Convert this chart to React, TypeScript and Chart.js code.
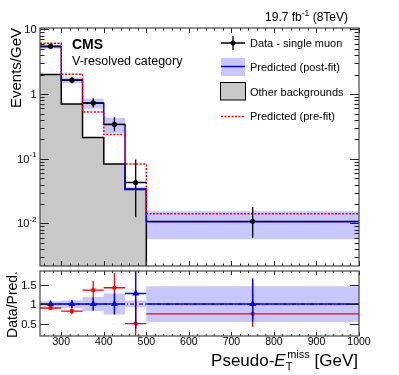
import React, { useEffect, useRef } from "react";
import { Chart, registerables } from "chart.js";

Chart.register(...registerables);

const FONT = "'Liberation Sans', Arial, Helvetica, sans-serif";

// ---------- data ----------
const binEdges = [250, 300, 350, 400, 450, 500, 1000];
const binCenters = [275, 325, 375, 425, 475, 750];

const dataValues = [5.5, 1.64, 0.73, 0.34, 0.043, 0.0108];
const dataErrUp = [0.38, 0.19, 0.13, 0.1, 0.054, 0.0071];
const dataErrDown = [0.36, 0.17, 0.11, 0.075, 0.0305, 0.0048];

const postFit = [5.4, 1.65, 0.72, 0.34, 0.034, 0.0106];
const postFitRelUnc = [0.07, 0.1, 0.18, 0.27, 0.09, 0.46];
const preFit = [6.1, 2.03, 0.53, 0.237, 0.083, 0.0141];
const otherBkg = [2.0, 0.7, 0.213, 0.083, 0.0334, 0];

const ratioPost = [1.0, 1.0, 1.0, 1.0, 1.27, 1.0];
const ratioPostErrUp = [0.05, 0.1, 0.17, 0.27, 1.6, 0.66];
const ratioPostErrDown = [0.05, 0.1, 0.17, 0.27, 0.9, 0.44];
const ratioPre = [0.9, 0.82, 1.36, 1.42, 0.5, 0.75];
const ratioPreErrUp = [0.05, 0.08, 0.23, 0.38, 0.63, 0.5];
const ratioPreErrDown = [0.05, 0.08, 0.23, 0.37, 0.36, 0.33];

const xTickValues = [300, 400, 500, 600, 700, 800, 900, 1000];
const xTickLabels = ["300", "400", "500", "600", "700", "800", "900", "1000"];
const yMainTickValues = [0.01, 0.1, 1, 10];
const yMainTickBase = ["10", "10", "1", "10"];
const yMainTickExp = ["-2", "-1", "", ""];
const yRatioTickValues = [0.5, 1, 1.5];
const yRatioTickLabels = ["0.5", "1", "1.5"];

const legendLabels = [
  "Data - single muon",
  "Predicted (post-fit)",
  "Other backgrounds",
  "Predicted (pre-fit)",
];

// ---------- styles ----------
const BAND = "#c8c8ff";
const GRAY = "#c8c8c8";
const BLUE = "#0000ff";
const RED = "#ff0000";

const stepPoints = (vals: number[]) => {
  const pts = vals.map((v, i) => ({ x: binEdges[i], y: v > 0 ? v : 1e-6 }));
  pts.push({ x: binEdges[binEdges.length - 1], y: pts[pts.length - 1].y });
  return pts;
};

type ErrSpec = {
  label: string;
  ys: number[];
  up: number[];
  down: number[];
  color: string;
  width: number;
};

const makeErrorBarPlugin = (specs: ErrSpec[]) => ({
  id: "errbars",
  beforeDatasetDraw(chart: any, args: any) {
    const ds = chart.data.datasets[args.index];
    const spec = specs.find((s) => s.label === ds.label);
    if (!spec) return;
    const { ctx, chartArea: a, scales } = chart;
    const xs = scales.x;
    const ys = scales.y;
    ctx.save();
    ctx.beginPath();
    ctx.rect(a.left, a.top, a.right - a.left, a.bottom - a.top);
    ctx.clip();
    ctx.strokeStyle = spec.color;
    ctx.lineWidth = spec.width;
    spec.ys.forEach((v, i) => {
      const py = ys.getPixelForValue(v);
      const px = xs.getPixelForValue(binCenters[i]);
      const x0 = xs.getPixelForValue(binEdges[i]);
      const x1 = xs.getPixelForValue(binEdges[i + 1]);
      ctx.beginPath();
      ctx.moveTo(x0, py);
      ctx.lineTo(x1, py);
      ctx.moveTo(px, ys.getPixelForValue(v + spec.up[i]));
      ctx.lineTo(px, ys.getPixelForValue(Math.max(v - spec.down[i], 1e-9)));
      ctx.stroke();
    });
    ctx.restore();
  },
});

const drawXTicks = (ctx: any, a: any, x: any, majLen: number, minLen: number) => {
  for (let v = 260; v <= 1000; v += 20) {
    const px = Math.round(x.getPixelForValue(v)) + 0.5;
    const len = v % 100 === 0 ? majLen : minLen;
    ctx.moveTo(px, a.bottom);
    ctx.lineTo(px, a.bottom - len);
    ctx.moveTo(px, a.top);
    ctx.lineTo(px, a.top + len);
  }
};

const drawFrame = (ctx: any, a: any) => {
  ctx.strokeStyle = "#444";
  ctx.lineWidth = 1.2;
  ctx.strokeRect(a.left, a.top, a.right - a.left, a.bottom - a.top);
};

const mainDecor = {
  id: "mainDecor",
  afterDraw(chart: any) {
    const { ctx, chartArea: a, scales } = chart;
    const x = scales.x;
    const y = scales.y;
    ctx.save();
    // ticks
    ctx.strokeStyle = "#222";
    ctx.lineWidth = 1;
    ctx.beginPath();
    for (let e = -3; e <= 1; e++) {
      for (let k = 1; k <= 9; k++) {
        const v = k * Math.pow(10, e);
        if (v < y.min || v > y.max) continue;
        const py = Math.round(y.getPixelForValue(v)) + 0.5;
        const len = k === 1 ? 9 : 4.5;
        ctx.moveTo(a.left, py);
        ctx.lineTo(a.left + len, py);
        ctx.moveTo(a.right, py);
        ctx.lineTo(a.right - len, py);
      }
    }
    drawXTicks(ctx, a, x, 5, 2.5);
    ctx.stroke();
    drawFrame(ctx, a);

    // y tick labels
    ctx.fillStyle = "#000";
    ctx.textBaseline = "middle";
    yMainTickValues.forEach((v, i) => {
      const py = y.getPixelForValue(v);
      ctx.font = `8px ${FONT}`;
      const we = yMainTickExp[i] ? ctx.measureText(yMainTickExp[i]).width : 0;
      ctx.font = `11px ${FONT}`;
      const wb = ctx.measureText(yMainTickBase[i]).width;
      const xEnd = 36.5;
      ctx.textAlign = "left";
      ctx.fillText(yMainTickBase[i], xEnd - we - wb, py + 1);
      if (yMainTickExp[i]) {
        ctx.font = `8px ${FONT}`;
        ctx.fillText(yMainTickExp[i], xEnd - we, py - 4);
      }
    });

    // y title
    ctx.save();
    ctx.translate(21, 28);
    ctx.rotate(-Math.PI / 2);
    ctx.font = `15px ${FONT}`;
    ctx.textAlign = "right";
    ctx.textBaseline = "alphabetic";
    ctx.fillText("Events/GeV", 0, 0);
    ctx.restore();

    // CMS labels
    ctx.textAlign = "left";
    ctx.textBaseline = "alphabetic";
    ctx.font = `bold 14px ${FONT}`;
    ctx.fillText("CMS", 72, 48.5);
    ctx.font = `12.5px ${FONT}`;
    ctx.fillText("V-resolved category", 72, 64.5);

    // luminosity
    ctx.font = `12px ${FONT}`;
    const wA = ctx.measureText("19.7 fb").width;
    const wC = ctx.measureText(" (8TeV)").width;
    ctx.font = `8.5px ${FONT}`;
    const wB = ctx.measureText("-1").width;
    let lx = 348 - (wA + wB + wC);
    ctx.font = `12px ${FONT}`;
    ctx.fillText("19.7 fb", lx, 21);
    lx += wA;
    ctx.font = `8.5px ${FONT}`;
    ctx.fillText("-1", lx, 16);
    lx += wB;
    ctx.font = `12px ${FONT}`;
    ctx.fillText(" (8TeV)", lx, 21);

    // legend
    const ly = [43, 67.5, 92, 116.5];
    // 1: data
    ctx.strokeStyle = "#000";
    ctx.lineWidth = 1.3;
    ctx.beginPath();
    ctx.moveTo(221, ly[0]);
    ctx.lineTo(245, ly[0]);
    ctx.moveTo(233, ly[0] - 7);
    ctx.lineTo(233, ly[0] + 7);
    ctx.stroke();
    ctx.fillStyle = "#000";
    ctx.beginPath();
    ctx.arc(233, ly[0], 2.5, 0, Math.PI * 2);
    ctx.fill();
    // 2: post-fit
    ctx.fillStyle = BAND;
    ctx.fillRect(221, ly[1] - 9.5, 24, 18);
    ctx.strokeStyle = BLUE;
    ctx.lineWidth = 1.5;
    ctx.beginPath();
    ctx.moveTo(221, ly[1] - 1);
    ctx.lineTo(245, ly[1] - 1);
    ctx.stroke();
    // 3: other
    ctx.fillStyle = GRAY;
    ctx.fillRect(220.5, ly[2] - 9.5, 25, 17.5);
    ctx.strokeStyle = "#000";
    ctx.lineWidth = 1;
    ctx.strokeRect(220.5, ly[2] - 9.5, 25, 17.5);
    // 4: pre-fit
    ctx.strokeStyle = RED;
    ctx.lineWidth = 1.5;
    ctx.setLineDash([2, 1.5]);
    ctx.beginPath();
    ctx.moveTo(221, ly[3]);
    ctx.lineTo(245, ly[3]);
    ctx.stroke();
    ctx.setLineDash([]);
    ctx.fillStyle = "#000";
    ctx.font = `11px ${FONT}`;
    ctx.textBaseline = "middle";
    legendLabels.forEach((t, i) => ctx.fillText(t, 250, ly[i] + 0.5));
    ctx.restore();
  },
};

const ratioDecor = {
  id: "ratioDecor",
  afterDraw(chart: any) {
    const { ctx, chartArea: a, scales } = chart;
    const x = scales.x;
    const y = scales.y;
    ctx.save();
    ctx.strokeStyle = "#222";
    ctx.lineWidth = 1;
    ctx.beginPath();
    yRatioTickValues.forEach((v) => {
      const py = Math.round(y.getPixelForValue(v)) + 0.5;
      ctx.moveTo(a.left, py);
      ctx.lineTo(a.left + 9, py);
      ctx.moveTo(a.right, py);
      ctx.lineTo(a.right - 9, py);
    });
    drawXTicks(ctx, a, x, 4, 2);
    ctx.stroke();
    drawFrame(ctx, a);

    ctx.fillStyle = "#000";
    ctx.font = `11px ${FONT}`;
    ctx.textAlign = "right";
    ctx.textBaseline = "middle";
    yRatioTickValues.forEach((v, i) => {
      ctx.fillText(yRatioTickLabels[i], 36.5, y.getPixelForValue(v) + 1);
    });

    ctx.font = `10.5px ${FONT}`;
    ctx.textAlign = "center";
    xTickValues.forEach((v, i) => {
      ctx.fillText(xTickLabels[i], x.getPixelForValue(v), 342.5);
    });

    // y title
    ctx.save();
    ctx.translate(16.5, 271);
    ctx.rotate(-Math.PI / 2);
    ctx.font = `14px ${FONT}`;
    ctx.textAlign = "right";
    ctx.textBaseline = "alphabetic";
    ctx.fillText("Data/Pred.", 0, 0);
    ctx.restore();

    // x title
    const big = `17px ${FONT}`;
    const bigIt = `italic 17px ${FONT}`;
    const small = `11px ${FONT}`;
    ctx.textAlign = "left";
    ctx.textBaseline = "alphabetic";
    ctx.font = big;
    const w1 = ctx.measureText("Pseudo-").width;
    const w4 = ctx.measureText(" [GeV]").width;
    ctx.font = bigIt;
    const w2 = ctx.measureText("E").width;
    ctx.font = small;
    const wT = ctx.measureText("T").width;
    const wM = ctx.measureText("miss").width;
    const total = w1 + w2 + Math.max(wT, wM + 1.5) + w4;
    let cx = 358 - total;
    const base = 366;
    ctx.font = big;
    ctx.fillText("Pseudo-", cx, base);
    cx += w1;
    ctx.font = bigIt;
    ctx.fillText("E", cx, base);
    cx += w2;
    ctx.font = small;
    ctx.fillText("T", cx, base + 4);
    ctx.fillText("miss", cx + 1.5, base - 8);
    cx += Math.max(wT, wM + 1.5);
    ctx.font = big;
    ctx.fillText(" [GeV]", cx, base);
    ctx.restore();
  },
};

const commonOptions = (padding: any, yScale: any) => ({
  responsive: false,
  animation: false as const,
  devicePixelRatio: 1,
  events: [] as any[],
  layout: { padding },
  plugins: {
    legend: { display: false },
    tooltip: { enabled: false },
    title: { display: false },
  },
  scales: {
    x: { type: "linear", display: false, min: 250, max: 1000 },
    y: yScale,
  },
});

export default function App() {
  const mainRef = useRef<HTMLCanvasElement>(null);
  const ratioRef = useRef<HTMLCanvasElement>(null);

  useEffect(() => {
    const bandLo = postFit.map((v, i) => v * (1 - postFitRelUnc[i]));
    const bandHi = postFit.map((v, i) => v * (1 + postFitRelUnc[i]));
    const rBandLo = postFitRelUnc.map((u) => 1 - u);
    const rBandHi = postFitRelUnc.map((u) => 1 + u);

    const main = new Chart(mainRef.current as HTMLCanvasElement, {
      type: "line",
      data: {
        datasets: [
          {
            label: "Data",
            data: binCenters.map((x, i) => ({ x, y: dataValues[i] })),
            showLine: false,
            pointRadius: 2.6,
            pointBackgroundColor: "#000",
            pointBorderWidth: 0,
            order: 1,
          },
          {
            label: "PreFit",
            data: stepPoints(preFit),
            stepped: true,
            borderColor: RED,
            borderWidth: 1.5,
            borderDash: [2, 1.5],
            pointRadius: 0,
            fill: false,
            order: 2,
          },
          {
            label: "PostFit",
            data: stepPoints(postFit),
            stepped: true,
            borderColor: BLUE,
            borderWidth: 1.5,
            pointRadius: 0,
            fill: false,
            order: 3,
          },
          {
            label: "BandLo",
            data: stepPoints(bandLo),
            stepped: true,
            borderWidth: 0,
            borderColor: "rgba(0,0,0,0)",
            pointRadius: 0,
            fill: false,
            order: 6,
          },
          {
            label: "BandHi",
            data: stepPoints(bandHi),
            stepped: true,
            borderWidth: 0,
            borderColor: "rgba(0,0,0,0)",
            backgroundColor: BAND,
            pointRadius: 0,
            fill: "-1",
            order: 6,
          },
          {
            label: "Other",
            data: stepPoints(otherBkg),
            stepped: true,
            borderColor: "#000",
            borderWidth: 1.5,
            backgroundColor: GRAY,
            pointRadius: 0,
            fill: "start",
            order: 5,
          },
        ],
      } as any,
      options: commonOptions(
        { left: 40, top: 28, right: 40, bottom: 109 },
        { type: "logarithmic", display: false, min: 0.0022, max: 10.5 }
      ) as any,
      plugins: [
        makeErrorBarPlugin([
          { label: "Data", ys: dataValues, up: dataErrUp, down: dataErrDown, color: "#000", width: 1.3 },
        ]),
        mainDecor,
      ],
    });

    const ratio = new Chart(ratioRef.current as HTMLCanvasElement, {
      type: "line",
      data: {
        datasets: [
          {
            label: "RatioPost",
            data: binCenters.map((x, i) => ({ x, y: ratioPost[i] })),
            showLine: false,
            pointStyle: "triangle",
            pointRadius: 4,
            pointBackgroundColor: BLUE,
            pointBorderColor: BLUE,
            pointBorderWidth: 0,
            order: 1,
          },
          {
            label: "RatioPre",
            data: binCenters.map((x, i) => ({ x, y: ratioPre[i] })),
            showLine: false,
            pointStyle: "rect",
            pointRadius: 2.6,
            pointBackgroundColor: RED,
            pointBorderColor: RED,
            pointBorderWidth: 0,
            order: 2,
          },
          {
            label: "One",
            data: [
              { x: 250, y: 1 },
              { x: 1000, y: 1 },
            ],
            borderColor: "#000",
            borderWidth: 1,
            borderDash: [4, 2, 1, 2],
            pointRadius: 0,
            fill: false,
            order: 3,
          },
          {
            label: "RBandLo",
            data: stepPoints(rBandLo),
            stepped: true,
            borderWidth: 0,
            borderColor: "rgba(0,0,0,0)",
            pointRadius: 0,
            fill: false,
            order: 4,
          },
          {
            label: "RBandHi",
            data: stepPoints(rBandHi),
            stepped: true,
            borderWidth: 0,
            borderColor: "rgba(0,0,0,0)",
            backgroundColor: BAND,
            pointRadius: 0,
            fill: "-1",
            order: 4,
          },
        ],
      } as any,
      options: commonOptions(
        { left: 40, top: 271, right: 40, bottom: 39 },
        { type: "linear", display: false, min: 0.18, max: 1.85 }
      ) as any,
      plugins: [
        makeErrorBarPlugin([
          { label: "RatioPost", ys: ratioPost, up: ratioPostErrUp, down: ratioPostErrDown, color: BLUE, width: 1.5 },
          { label: "RatioPre", ys: ratioPre, up: ratioPreErrUp, down: ratioPreErrDown, color: RED, width: 1.3 },
        ]),
        ratioDecor,
      ],
    });

    return () => {
      main.destroy();
      ratio.destroy();
    };
  }, []);

  const cs: React.CSSProperties = { position: "absolute", left: 0, top: 0, width: 399, height: 375 };
  return (
    <div style={{ position: "fixed", left: 0, top: 0, width: 399, height: 375, background: "#fff" }}>
      <canvas ref={mainRef} width={399} height={375} style={cs} />
      <canvas ref={ratioRef} width={399} height={375} style={cs} />
    </div>
  );
}
